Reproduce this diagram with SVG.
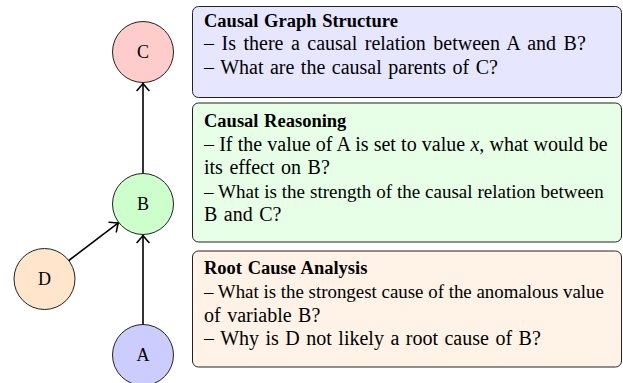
<svg xmlns="http://www.w3.org/2000/svg" width="623" height="383" viewBox="0 0 623 383">
<defs>
<style>
.node{stroke:#222;stroke-width:1}
.lbl{font-family:"Liberation Serif","Times New Roman",serif;font-size:18px;fill:#000;text-anchor:middle}
.box{stroke:#222;stroke-width:1}
.t{font-family:"Liberation Serif","Times New Roman",serif;font-size:20px;fill:#000;word-spacing:1.5px}
.h{font-size:18.5px;font-weight:bold;word-spacing:1px}
.edge{stroke:#000;stroke-width:1.6;fill:none}
</style>
<marker id="arr" viewBox="-10 -8 12 16" markerWidth="12" markerHeight="16" refX="0" refY="0" orient="auto" markerUnits="userSpaceOnUse">
<path d="M-7,-6 Q-2,-1.5 0,0 Q-2,1.5 -7,6" fill="none" stroke="#000" stroke-width="1.6" stroke-linecap="round"/>
</marker>
</defs>
<g id="connectors">
<line class="edge" x1="143" y1="173" x2="143" y2="83.5" marker-end="url(#arr)"/>
<line class="edge" x1="143" y1="325" x2="143" y2="235.5" marker-end="url(#arr)"/>
<line class="edge" x1="68.8" y1="260.5" x2="118.3" y2="222.8" marker-end="url(#arr)"/>
</g>
<g id="node-C"><circle class="node" cx="143" cy="52" r="30.5" fill="#FFCCCC"/><text class="lbl" x="143" y="58">C</text></g>
<g id="node-B"><circle class="node" cx="143" cy="204" r="30.5" fill="#CCFFCC"/><text class="lbl" x="143" y="210">B</text></g>
<g id="node-D"><circle class="node" cx="44.5" cy="279" r="30.5" fill="#FFE5CC"/><text class="lbl" x="44.5" y="285">D</text></g>
<g id="node-A"><circle class="node" cx="143" cy="355" r="30.5" fill="#CCCCFF"/><text class="lbl" x="143" y="361">A</text></g>
<g id="box-structure">
<rect class="box" x="192.5" y="6.5" width="429" height="91" rx="6" fill="#E6E6FF"/>
<text class="t h" x="204" y="26.5">Causal Graph Structure</text>
<text class="t" x="204" y="50" style="word-spacing:2.5px">– Is there a causal relation between A and B?</text>
<text class="t" x="204" y="73.5">– What are the causal parents of C?</text>
</g>
<g id="box-reasoning">
<rect class="box" x="192.5" y="103" width="429" height="139" rx="6" fill="#E6FFE6"/>
<text class="t h" x="204" y="126.5">Causal Reasoning</text>
<text class="t" x="204" y="150.5" style="word-spacing:0.2px">– If the value of A is set to value <tspan font-style="italic">x</tspan>, what would be</text>
<text class="t" x="204" y="174">its effect on B?</text>
<text class="t" x="204" y="197.5" style="font-size:19px;word-spacing:0.2px">– What is the strength of the causal relation between</text>
<text class="t" x="204" y="221">B and C?</text>
</g>
<g id="box-rca">
<rect class="box" x="192.5" y="251" width="429" height="116" rx="6" fill="#FFF2E6"/>
<text class="t h" x="204" y="273.5">Root Cause Analysis</text>
<text class="t" x="204" y="298" style="font-size:18.9px;word-spacing:0px">– What is the strongest cause of the anomalous value</text>
<text class="t" x="204" y="321.5">of variable B?</text>
<text class="t" x="204" y="345">– Why is D not likely a root cause of B?</text>
</g>
</svg>
